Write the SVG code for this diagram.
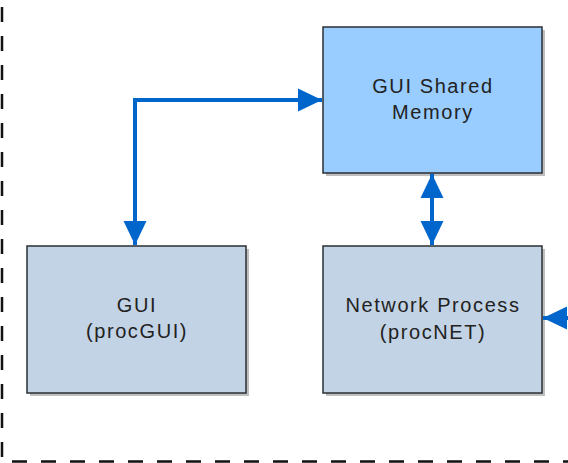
<svg xmlns="http://www.w3.org/2000/svg" width="568" height="463" viewBox="0 0 568 463">
<style>
.box{stroke:#2b2f33;stroke-width:1.5}
.shadow{fill:#8a8a8a;opacity:0.55}
.mem{fill:#99ccff}
.proc{fill:#c2d3e5}
.lbl{font-family:"Liberation Sans",Arial,sans-serif;font-size:20px;letter-spacing:1.6px;fill:#222;text-anchor:middle}
.conn{fill:none;stroke:#0066cc;stroke-width:4}
.dash{fill:none;stroke:#111;stroke-width:2.5;stroke-dasharray:15 14}
</style>
<defs>
<marker id="ah" markerUnits="userSpaceOnUse" markerWidth="26" markerHeight="26" refX="24" refY="13" orient="auto-start-reverse" viewBox="0 0 26 26">
<path d="M0,1.5 L24,13 L0,24.5 Z" fill="#0066cc"/>
</marker>
</defs>
<g id="boundary">
<line class="dash" x1="2" y1="7" x2="2" y2="462"/>
<line class="dash" x1="12" y1="461.5" x2="568" y2="461.5"/>
</g>
<g id="shared-memory">
<rect class="shadow" x="326" y="30" width="219" height="146"/>
<rect class="box mem" x="323" y="27" width="219" height="146"/>
<text class="lbl" x="433" y="93">GUI Shared</text>
<text class="lbl" x="433" y="119">Memory</text>
</g>
<g id="gui">
<rect class="shadow" x="30" y="249" width="219" height="147"/>
<rect class="box proc" x="27" y="246" width="219" height="147"/>
<text class="lbl" x="137" y="312">GUI</text>
<text class="lbl" x="137" y="338">(procGUI)</text>
</g>
<g id="network-process">
<rect class="shadow" x="326" y="249" width="219" height="147"/>
<rect class="box proc" x="323" y="246" width="219" height="147"/>
<text class="lbl" x="433" y="312">Network Process</text>
<text class="lbl" x="433" y="339">(procNET)</text>
</g>
<g id="connectors">
<path class="conn" d="M322,100 H135 V245" marker-start="url(#ah)" marker-end="url(#ah)"/>
<path class="conn" d="M432,174 V245" marker-start="url(#ah)" marker-end="url(#ah)"/>
<path class="conn" d="M570,318 H543" marker-end="url(#ah)"/>
</g>
</svg>
